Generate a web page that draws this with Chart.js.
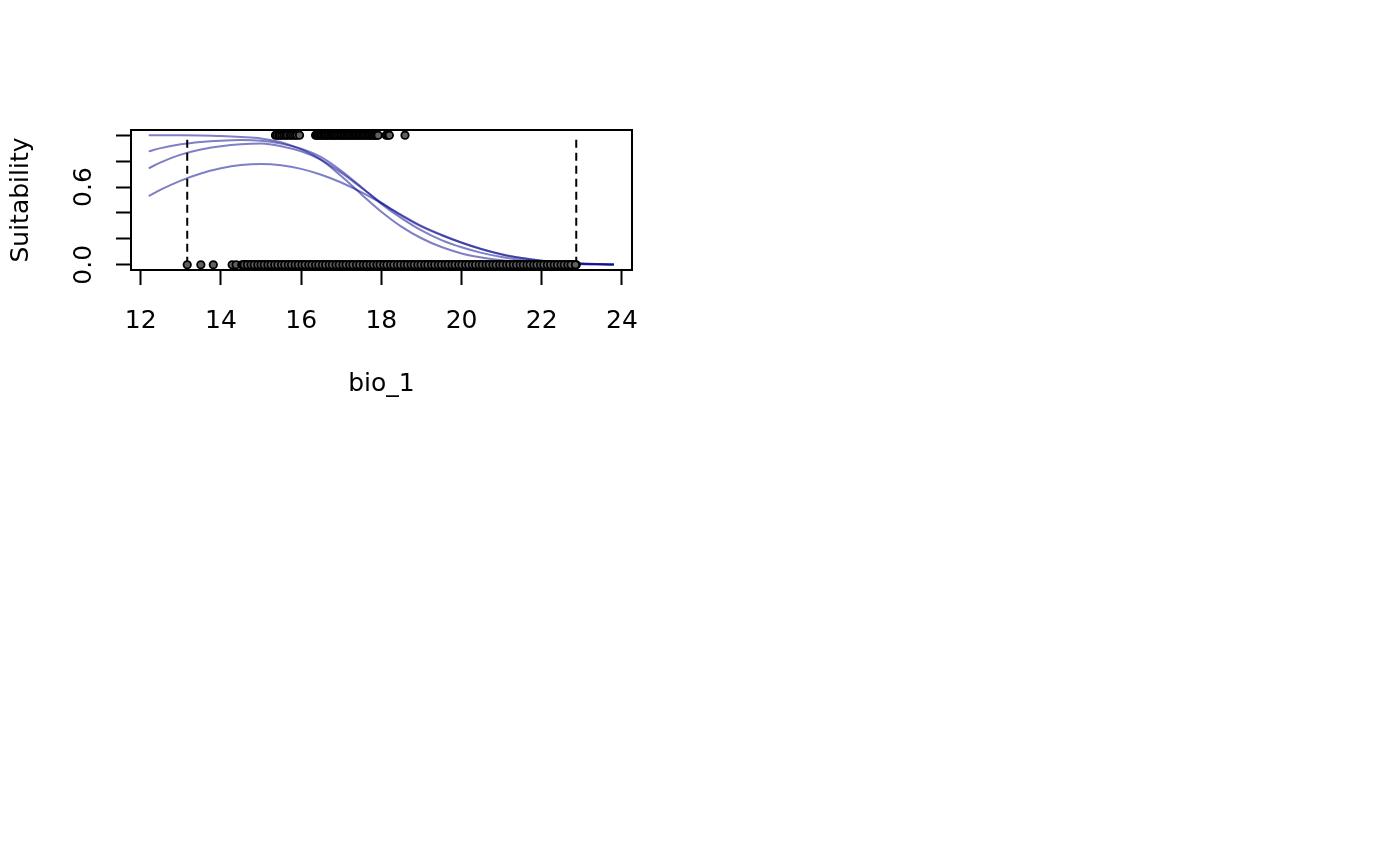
<!DOCTYPE html>
<html>
<head>
<meta charset="utf-8">
<script src="https://cdn.jsdelivr.net/npm/chart.js@4/dist/chart.umd.min.js"></script>
<style>
  html, body { margin: 0; padding: 0; background: #fff; }
  canvas { display: block; }
</style>
</head>
<body>
<canvas id="c" width="1400" height="866"></canvas>
<script>
// response curves (4 replicates), sampled along bio_1
const curveX = [12.2, 12.5, 13, 13.5, 14, 14.5, 15, 15.5, 16, 16.5, 17, 17.5, 18, 18.5, 19, 19.5, 20, 20.5, 21, 21.5, 22, 22.5, 23, 23.8];
const curveA = [1.0, 1.0, 0.999, 0.997, 0.993, 0.986, 0.975, 0.945, 0.89, 0.81, 0.685, 0.545, 0.41, 0.295, 0.205, 0.137, 0.088, 0.057, 0.036, 0.023, 0.014, 0.008, 0.005, 0.002];
const curveB = [0.875, 0.9, 0.93, 0.948, 0.958, 0.962, 0.958, 0.935, 0.895, 0.83, 0.725, 0.6, 0.47, 0.36, 0.265, 0.19, 0.135, 0.092, 0.06, 0.038, 0.023, 0.013, 0.007, 0.003];
const curveC = [0.745, 0.79, 0.85, 0.89, 0.915, 0.93, 0.935, 0.915, 0.875, 0.81, 0.71, 0.595, 0.48, 0.38, 0.295, 0.228, 0.17, 0.12, 0.08, 0.052, 0.032, 0.018, 0.01, 0.003];
const curveD = [0.53, 0.58, 0.65, 0.705, 0.745, 0.77, 0.778, 0.768, 0.74, 0.695, 0.635, 0.56, 0.475, 0.385, 0.3, 0.232, 0.172, 0.122, 0.082, 0.053, 0.032, 0.018, 0.01, 0.003];

// presences (y = 1)
const presX = [15.36, 15.4, 15.45, 15.48, 15.53, 15.58, 15.62, 15.66, 15.72,
  15.76, 15.81, 15.86, 15.9, 15.96,
  16.36, 16.39, 16.42, 16.46, 16.5, 16.53, 16.57, 16.6, 16.63, 16.67, 16.7, 16.74, 16.78, 16.81,
  16.85, 16.88, 16.92, 16.96, 17.0, 17.03, 17.07, 17.1, 17.14, 17.18, 17.21, 17.25, 17.29, 17.33,
  17.36, 17.4, 17.44, 17.47, 17.51, 17.55, 17.58, 17.62, 17.66, 17.7, 17.73, 17.77, 17.8, 17.83,
  17.86, 17.89, 17.92, 18.12, 18.16, 18.2, 18.59];

// background / absences (y = 0)
const absX = [13.16, 13.5, 13.81, 14.28, 14.38, 14.52, 14.6, 14.68, 14.77, 14.85, 14.94, 15.02,
  15.1, 15.19, 15.27, 15.36, 15.44, 15.53, 15.61, 15.7, 15.78, 15.87, 15.95, 16.04, 16.12, 16.21,
  16.29, 16.38, 16.46, 16.55, 16.63, 16.72, 16.8, 16.89, 16.97, 17.06, 17.14, 17.23, 17.31, 17.4,
  17.48, 17.57, 17.65, 17.74, 17.82, 17.91, 17.99, 18.08, 18.16, 18.25, 18.33, 18.42, 18.5, 18.59,
  18.67, 18.76, 18.84, 18.93, 19.01, 19.1, 19.18, 19.27, 19.35, 19.44, 19.52, 19.61, 19.69, 19.78,
  19.86, 19.95, 20.03, 20.12, 20.2, 20.29, 20.37, 20.46, 20.54, 20.63, 20.71, 20.8, 20.88, 20.97,
  21.05, 21.14, 21.22, 21.31, 21.39, 21.48, 21.56, 21.65, 21.73, 21.82, 21.9, 21.99, 22.07, 22.16,
  22.24, 22.33, 22.41, 22.5, 22.58, 22.67, 22.75, 22.82, 22.86];
const absX2 = [14.56, 14.64, 14.73, 14.81, 14.9, 14.98, 15.06, 15.15, 15.23, 15.32, 15.4, 15.49,
  15.57, 15.66, 15.74, 15.83, 15.91, 16.0, 16.08, 16.17, 16.25, 16.34, 16.42, 16.51, 16.59, 16.68,
  16.76, 16.85, 16.93, 17.02, 17.1, 17.19, 17.27, 17.36, 17.44, 17.53, 17.61, 17.7, 17.78, 17.87,
  17.95, 18.04, 18.12, 18.21, 18.29, 18.38, 18.46, 18.55, 18.63, 18.72, 18.8, 18.89, 18.97, 19.06,
  19.14, 19.23, 19.31, 19.4, 19.48, 19.57, 19.65, 19.74, 19.82, 19.91, 19.99, 20.08, 20.16, 20.25,
  20.33, 20.42, 20.5, 20.59, 20.67, 20.76, 20.84, 20.93, 21.01, 21.1, 21.18, 21.27, 21.35, 21.44,
  21.52, 21.61, 21.69, 21.78, 21.86, 21.95, 22.03, 22.12, 22.2, 22.29, 22.37, 22.46, 22.54, 22.63,
  22.71, 22.79];
const absX3 = [14.58, 14.66, 14.75, 14.83, 14.92, 15.0, 15.08, 15.17, 15.25, 15.34, 15.42, 15.51,
  15.59, 15.68, 15.76, 15.85, 15.93, 16.02, 16.1, 16.19, 16.27, 16.36, 16.44, 16.53, 16.61, 16.7,
  16.78, 16.87, 16.95, 17.04, 17.12, 17.21, 17.29, 17.38, 17.46, 17.55, 17.63, 17.72, 17.8, 17.89,
  17.97, 18.06, 18.14, 18.23, 18.31, 18.4, 18.48, 18.57, 18.65, 18.74, 18.82, 18.91, 18.99, 19.08,
  19.16, 19.25, 19.33, 19.42, 19.5, 19.59, 19.67, 19.76, 19.84, 19.93, 20.01, 20.1, 20.18, 20.27,
  20.35, 20.44, 20.52, 20.61, 20.69, 20.78, 20.86, 20.95, 21.03, 21.12, 21.2, 21.29, 21.37, 21.46,
  21.54, 21.63, 21.71, 21.8, 21.88, 21.97, 22.05, 22.14, 22.22, 22.31, 22.39, 22.48, 22.56, 22.65,
  22.73, 22.84];

// training range limits (dashed verticals)
const rangeLimits = [13.16, 22.86];

const xTicksMin = 12, xTicksMax = 24;
const yTickLabels = { 0: '0.0', 0.6: '0.6' };

Chart.defaults.font.family = 'DejaVu Sans';
Chart.defaults.font.size = 25;
Chart.defaults.color = '#000';

const curveColor = 'rgba(0, 0, 139, 0.5)';
const toXY = (xs, ys) => xs.map((x, i) => ({ x: x, y: ys[i] }));

const curveSets = [curveA, curveB, curveC, curveD].map(ys => ({
  data: toXY(curveX, ys),
  showLine: true,
  borderColor: curveColor,
  borderWidth: 2,
  pointRadius: 0,
  cubicInterpolationMode: 'monotone',
  order: 3
}));

const limitSets = rangeLimits.map(v => ({
  data: [{ x: v, y: 0 }, { x: v, y: 1 }],
  showLine: true,
  borderColor: '#000',
  borderWidth: 2,
  borderDash: [8, 5],
  pointRadius: 0,
  order: 2
}));

const pointStyle = {
  pointRadius: 3.7,
  pointBackgroundColor: '#606060',
  pointBorderColor: '#000',
  pointBorderWidth: 1.8,
  order: 1
};

// box around the plot region, like R's box()
const boxPlugin = {
  id: 'box',
  afterDraw(chart) {
    const a = chart.chartArea, ctx = chart.ctx;
    ctx.save();
    ctx.strokeStyle = '#000';
    ctx.lineWidth = 2;
    ctx.strokeRect(a.left, a.top, a.right - a.left, a.bottom - a.top);
    ctx.restore();
  }
};

new Chart(document.getElementById('c'), {
  type: 'scatter',
  data: {
    datasets: [
      ...curveSets,
      ...limitSets,
      Object.assign({ data: absX.concat(absX2, absX3).map(x => ({ x: x, y: 0 })) }, pointStyle),
      Object.assign({ data: presX.map(x => ({ x: x, y: 1 })) }, pointStyle)
    ]
  },
  options: {
    responsive: false,
    animation: false,
    devicePixelRatio: 1,
    layout: { padding: { left: 0, top: 130, right: 768, bottom: 466 } },
    plugins: { legend: { display: false }, tooltip: { enabled: false } },
    scales: {
      x: {
        type: 'linear',
        min: 11.758,
        max: 24.25,
        afterFit: s => { s.height = 130; },
        border: { display: false },
        grid: { drawOnChartArea: false, tickLength: 15, tickWidth: 2, tickColor: '#000' },
        ticks: {
          stepSize: 2,
          includeBounds: false,
          padding: 21,
          maxRotation: 0,
          autoSkip: false,
          callback: v => (v >= xTicksMin && v <= xTicksMax) ? String(v) : ''
        },
        title: { display: true, text: 'bio_1', padding: { top: 0, bottom: 1 } }
      },
      y: {
        type: 'linear',
        min: -0.04,
        max: 1.04,
        afterFit: s => { s.width = 131; },
        border: { display: false },
        grid: { drawOnChartArea: false, tickLength: 15, tickWidth: 2, tickColor: '#000' },
        ticks: {
          stepSize: 0.2,
          includeBounds: false,
          padding: 12,
          minRotation: 90,
          maxRotation: 90,
          crossAlign: 'center',
          autoSkip: false,
          callback: v => {
            const k = Math.round(v * 10) / 10;
            return yTickLabels[k] !== undefined ? yTickLabels[k] : '';
          }
        },
        title: { display: true, text: 'Suitability', padding: { top: 6, bottom: 0 } }
      }
    }
  },
  plugins: [boxPlugin]
});
</script>
</body>
</html>
